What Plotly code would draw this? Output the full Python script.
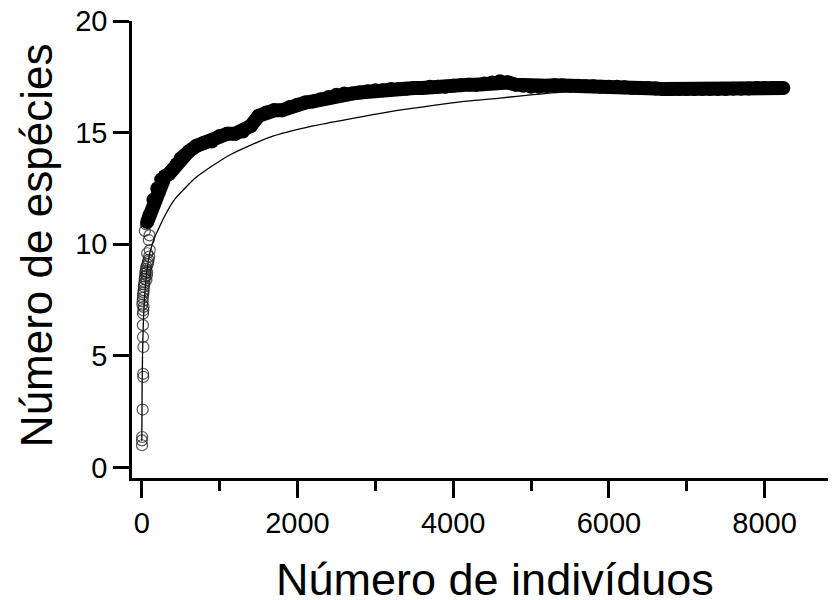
import plotly.graph_objects as go

# Early sparse observations (open circles)
early_x = [3, 4, 5, 12, 18, 20, 22, 16, 15, 17, 20, 24, 8, 12, 15, 18, 22, 25, 28, 30, 35, 38,
           42, 45, 50, 55, 60, 65, 70, 75, 80, 88, 95, 103, 90, 100, 70, 60, 40, 55]
early_y = [1.22, 1.0, 1.37, 2.6, 4.2, 4.06, 5.4, 5.85, 6.38, 6.9, 7.05, 7.2, 7.3, 7.45, 7.6, 7.75,
           7.85, 7.95, 8.1, 8.2, 8.3, 8.45, 8.55, 8.7, 8.8, 8.9, 9.0, 8.6, 8.75, 9.1, 9.2, 9.3,
           9.45, 9.74, 10.19, 10.4, 9.6, 8.4, 10.6, 10.9]

# Dense accumulation band
band_x = [70, 100, 150, 200, 250, 300, 350, 400, 450, 500, 550, 600, 700, 800, 900, 1000,
          1100, 1200, 1300, 1400, 1500, 1600, 1700, 1800, 1900, 2000, 2100, 2200, 2300, 2400,
          2500, 2600, 2700, 2800, 2900, 3000, 3100, 3200, 3300, 3400, 3500, 3600, 3700, 3800,
          3900, 4000, 4100, 4200, 4300, 4400, 4500, 4600, 4700, 4800, 4900, 5000, 5100, 5200,
          5300, 5400, 5500, 5600, 5700, 5800, 5900, 6000, 6100, 6200, 6300, 6400, 6500, 6600,
          6700, 6800, 6900, 7000, 7100, 7200, 7300, 7400, 7500, 7600, 7700, 7800, 7900, 8000,
          8100, 8200, 8240]
band_y = [11.0, 11.3, 12.0, 12.5, 12.9, 13.05, 13.15, 13.35, 13.6, 13.85, 14.0, 14.15, 14.4,
          14.55, 14.6, 14.85, 14.95, 14.95, 15.05, 15.3, 15.75, 15.9, 16.0, 16.0, 16.15, 16.25,
          16.35, 16.4, 16.5, 16.6, 16.7, 16.75, 16.75, 16.8, 16.85, 16.9, 16.9, 16.95, 16.95,
          16.97, 17.0, 17.0, 17.05, 17.05, 17.05, 17.1, 17.12, 17.15, 17.15, 17.2, 17.25, 17.3,
          17.25, 17.15, 17.1, 17.05, 17.05, 17.1, 17.12, 17.12, 17.1, 17.1, 17.08, 17.08, 17.05,
          17.05, 17.05, 17.03, 17.0, 17.0, 17.0, 16.98, 16.95, 16.95, 16.95, 16.95, 16.95, 16.95,
          16.95, 16.95, 16.95, 16.97, 16.97, 16.98, 17.0, 17.0, 17.0, 17.0, 17.0]

# Fitted curve
fit_x = [1, 5, 10, 20, 40, 70, 110, 170, 230, 300, 420, 700, 1130, 1650, 2200, 2800, 3400,
         4090, 4600, 5030, 5500, 6000, 7000, 8250]
fit_y = [1.2, 3.5, 5.0, 6.4, 7.8, 8.9, 9.7, 10.35, 10.8, 11.3, 12.0, 13.0, 14.0, 14.8, 15.3,
         15.7, 16.05, 16.38, 16.55, 16.7, 16.85, 16.95, 17.0, 17.0]

x_ticks = [0, 2000, 4000, 6000, 8000]
y_ticks = [0, 5, 10, 15, 20]

FONT = "Liberation Sans, Arial, sans-serif"

# page body has an 8px margin: compensate so the plot lands where the reference has it
L, T = 124, 13
PW, PH = 704, 456.7
R = 836 - L - PW
B = 600 - T - PH

fig = go.Figure()
fig.add_trace(go.Scatter(x=fit_x, y=fit_y, mode="lines",
                         line=dict(color="black", width=1.3, shape="spline", smoothing=0.6),
                         showlegend=False, hoverinfo="skip"))
fig.add_trace(go.Scatter(x=early_x, y=early_y, mode="markers",
                         marker=dict(symbol="circle-open", size=11, color="rgba(30,30,30,0.75)",
                                     line=dict(color="rgba(30,30,30,0.75)", width=1.2)),
                         showlegend=False))
fig.add_trace(go.Scatter(x=band_x, y=band_y, mode="lines+markers",
                         line=dict(color="black", width=14),
                         marker=dict(symbol="circle", size=14, color="black",
                                     line=dict(color="black", width=0)),
                         showlegend=False))

fig.update_layout(
    width=836, height=600,
    margin=dict(l=L, r=R, t=T, b=B, autoexpand=False),
    plot_bgcolor="white", paper_bgcolor="white",
    font=dict(family=FONT, color="black", size=29),
    xaxis=dict(range=[-125, 8917], tickvals=x_ticks, ticktext=[str(v) for v in x_ticks],
               showgrid=False, zeroline=False, showline=True, linecolor="black", linewidth=2.5,
               ticks="outside", ticklen=17, tickwidth=2.5, tickcolor="black",
               tickfont=dict(size=29, family=FONT), automargin=False, ticklabeloverflow="allow",
               minor=dict(dtick=1000, tick0=0, ticks="outside", ticklen=10, tickwidth=2.5,
                          tickcolor="black", showgrid=False)),
    yaxis=dict(range=[-0.466, 20.0], tickvals=y_ticks, ticktext=[str(v) for v in y_ticks],
               showgrid=False, zeroline=False, showline=True, linecolor="black", linewidth=2.5,
               ticks="outside", ticklen=16, tickwidth=2.5, tickcolor="black",
               tickfont=dict(size=29, family=FONT), automargin=False, ticklabeloverflow="allow"),
    annotations=[
        dict(text="Número de indivíduos", xref="paper", yref="paper",
             x=(487 - L) / PW, y=-(571 - (T + PH)) / PH, showarrow=False,
             xanchor="center", yanchor="middle", font=dict(size=45, family=FONT)),
        dict(text="Número de espécies", xref="paper", yref="paper",
             x=-(L - 28) / PW, y=(T + PH - 237) / PH, showarrow=False, textangle=-90,
             xanchor="center", yanchor="middle", font=dict(size=44, family=FONT)),
    ],
)

fig.write_html("out.html")
